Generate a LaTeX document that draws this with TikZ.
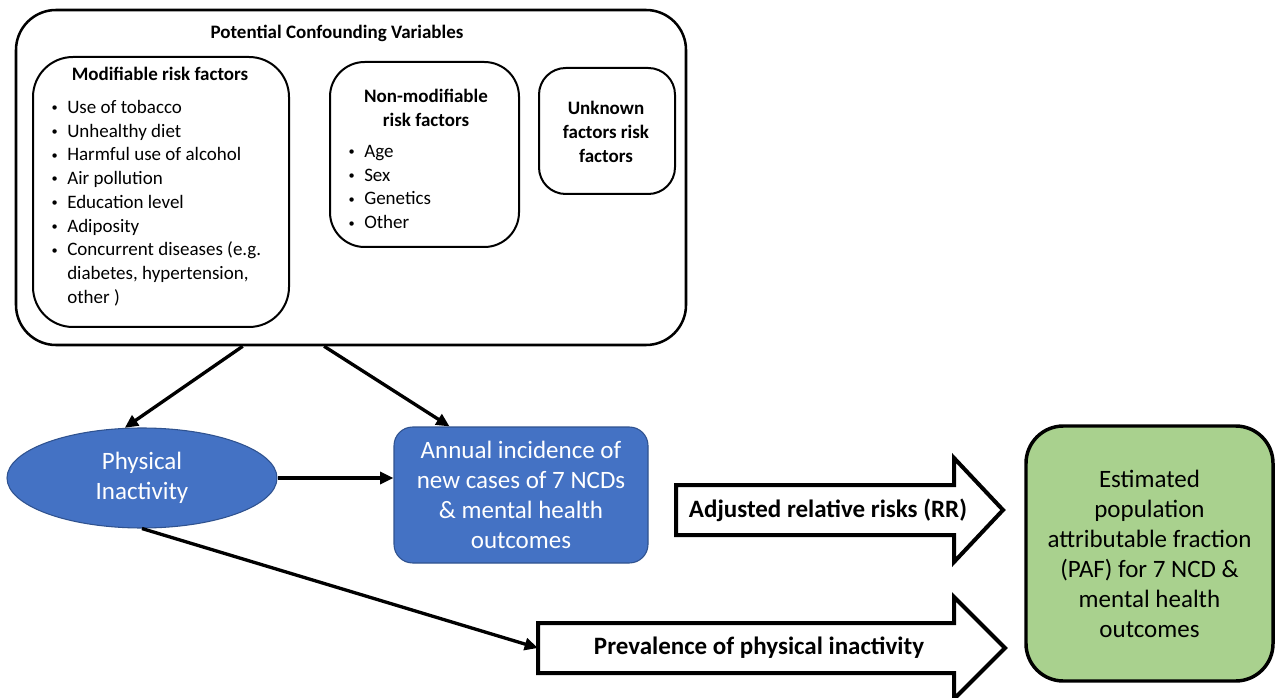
\documentclass[tikz,border=0pt]{standalone}
\usepackage{fontspec}
\setmainfont{Carlito}
\usetikzlibrary{fit,calc,shapes.geometric,arrows.meta}
\definecolor{piblue}{HTML}{4472C4}
\definecolor{piline}{HTML}{2F528F}
\definecolor{pafgreen}{HTML}{A9D18E}
\tikzset{font={\fontsize{14.25pt}{17.8pt}\selectfont}}
\tikzset{
  riskbox/.style={draw, line width=1.5pt, inner sep=0pt},
  boxtitle/.style={font={\fontsize{14.25pt}{17.8pt}\selectfont\bfseries}, align=center, inner sep=0pt},
  risklist/.style={align=left, anchor=west, inner sep=0pt},
  bigtext/.style={font={\fontsize{18.75pt}{22.5pt}\selectfont}, align=center},
  bigbold/.style={font={\fontsize{18.75pt}{22.5pt}\selectfont\bfseries}, inner sep=0pt},
  conn/.style={line width=2.5pt, -{Triangle[length=10pt,width=9pt]}},
  blockarrow/.style={draw, line width=3pt, line join=miter},
}
\newcommand{\itm}{\makebox[12.75pt][l]{\hspace*{1pt}\raisebox{1.2pt}{\scalebox{0.65}{\textbullet}}}}

\begin{document}
\begin{tikzpicture}[x=0.75pt,y=-0.75pt]
      \useasboundingbox (0,0) rectangle (1277,698);
      %confounding variables
      \node[riskbox, line width=1.9pt, rounded corners=30pt, fit={(16,10) (686,345)}] (conf) {};
      \node[boxtitle] (conftitle) at (337,33) {Potential Confounding Variables};
      %modifiable
      \node[riskbox, rounded corners=30pt, fit={(33,57) (289,327)}] (modbox) {};
      \node[boxtitle] (modtitle) at (160,74) {Modifiable risk factors};
      \node[risklist] (modlist) at (50,203) {\itm Use of tobacco\\ \itm Unhealthy diet\\ \itm Harmful use of alcohol\\
        \itm Air pollution\\ \itm Education level\\ \itm Adiposity\\ \itm Concurrent diseases (e.g.\\
        \hspace*{12.75pt}diabetes, hypertension,\\ \hspace*{12.75pt}other )};
      %non-modifiable
      \node[riskbox, rounded corners=26pt, fit={(330,62) (519,247)}] (nonmodbox) {};
      \node[boxtitle] (nonmodtitle) at (426,108) {Non-modifiable\\risk factors};
      \node[risklist] (nonmodlist) at (347,187) {\itm Age\\ \itm Sex\\ \itm Genetics\\ \itm Other};
      %unknown
      \node[riskbox, rounded corners=20pt, fit={(539,68) (675,194)}] (unkbox) {};
      \node[boxtitle] (unktitle) at (606,132) {Unknown\\factors risk\\factors};
      %exposure and outcomes
      \node[ellipse, draw=piline, fill=piblue, text=white, line width=0.8pt, minimum width=202.5pt,
        minimum height=75pt, inner sep=0pt, bigtext] (phys) at (142,478) {Physical\\Inactivity};
      \node[draw=piline, fill=piblue, text=white, rounded corners=14pt, line width=0.8pt,
        minimum width=190.5pt, minimum height=102pt, bigtext] (ncd) at (521,495)
        {Annual incidence of\\new cases of 7 NCDs\\\& mental health\\outcomes};
      \node[draw, fill=pafgreen, rounded corners=28pt, line width=2.6pt, minimum width=185.25pt,
        minimum height=191.25pt, bigtext] (paf) at (1149.5,553.5)
        {Estimated\\population\\attributable fraction\\(PAF) for 7 NCD \&\\mental health\\outcomes};
      %block arrows
      \draw[blockarrow] (676,485) -- (954,485) -- (954,458) -- (1003,510) -- (954,562) -- (954,535) -- (676,535) -- cycle;
      \node[bigbold] (rr) at (828,510) {Adjusted relative risks (RR)};
      \draw[blockarrow] (538,623) -- (954,623) -- (954,597) -- (1005,648) -- (954,699) -- (954,673) -- (538,673) -- cycle;
      \node[bigbold] (prev) at (759,648) {Prevalence of physical inactivity};
      \coordinate (prevtail) at (538,648);
      %connectors
      \draw[conn] ($(conf.south west)!0.339!(conf.south east)$) -- (phys.109);
      \draw[conn] ($(conf.south west)!0.46!(conf.south east)$) -- ($(ncd.north west)!0.22!(ncd.north east)$);
      \draw[conn] (phys.east) -- (phys.east -| ncd.west);
      \draw[conn] (phys.south) -- (prevtail);
\end{tikzpicture}
\end{document}
